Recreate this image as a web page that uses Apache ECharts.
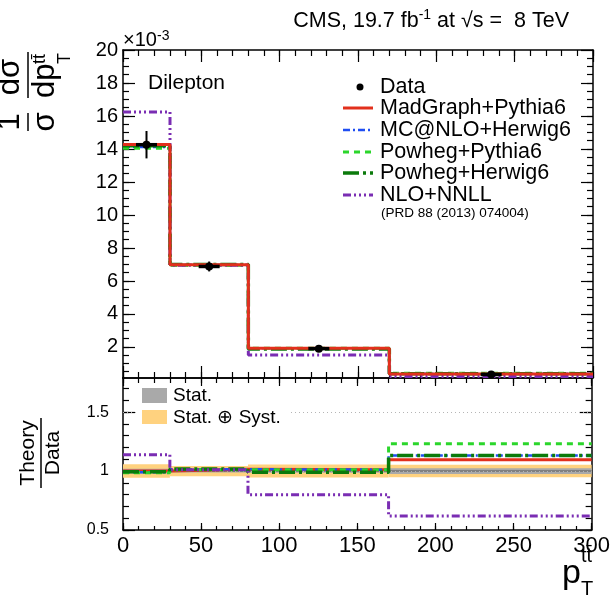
<!DOCTYPE html>
<html>
<head>
<meta charset="utf-8">
<script src="https://cdn.jsdelivr.net/npm/echarts@6/dist/echarts.min.js"></script>
<style>
  html, body { margin: 0; padding: 0; background: #fff; }
  #chart { width: 613px; height: 596px; }
</style>
</head>
<body>
<div id="chart"></div>
<script>
// ---- binning (GeV) ----
const binEdges = [0, 30, 80, 170, 300];
const binCenters = [15, 55, 125, 235];

// ---- normalised differential cross section, units of 1e-3 / GeV ----
const dataValues = [14.26, 6.88, 1.90, 0.33];
const dataErrors = [0.83, 0.30, 0.06, 0.03];
const madgraphPythia6 = [14.27, 6.98, 1.92, 0.37];
const mcatnloHerwig6 = [14.12, 6.98, 1.92, 0.38];
const powhegPythia6 = [14.05, 6.96, 1.92, 0.41];
const powhegHerwig6 = [14.19, 7.00, 1.88, 0.38];
const nloNnll = [16.24, 6.96, 1.52, 0.21];

// ---- theory / data ----
const ratioMadgraphPythia6 = [1.00, 1.015, 1.012, 1.097];
const ratioMcatnloHerwig6 = [0.99, 1.015, 1.012, 1.133];
const ratioPowhegPythia6 = [0.985, 1.012, 1.012, 1.232];
const ratioPowhegHerwig6 = [0.995, 1.018, 0.99, 1.133];
const ratioNloNnll = [1.139, 1.012, 0.80, 0.619];
const statUncertainty = [0.02, 0.012, 0.015, 0.024];
const totalUncertainty = [0.057, 0.044, 0.055, 0.053];

// ---- axis ticks ----
const xMajorTicks = [0, 50, 100, 150, 200, 250, 300];
const yMajorTicksTop = [2, 4, 6, 8, 10, 12, 14, 16, 18, 20];
const yMajorTicksRatio = [0.5, 1, 1.5];
const ratioGridLines = [1.5, 1];

const FONT = '"Liberation Sans", Arimo, Arial, Helvetica, sans-serif';

function tickRange(start, stop, step) {
  const out = [];
  for (let v = start; v <= stop + 1e-9; v += step) out.push(+v.toFixed(4));
  return out;
}
const xMinorTicks = tickRange(0, 300, 10);
const yMinorTicksTop = tickRange(0.5, 19.5, 0.5);
const yMinorTicksRatio = tickRange(0.5, 1.7, 0.1);

// histogram -> step polyline points
function stepPoints(values) {
  const pts = values.map((v, i) => [binEdges[i], v]);
  pts.push([binEdges[binEdges.length - 1], values[values.length - 1]]);
  return pts;
}

// ---- axes (ticks pointing inwards on all four sides) ----
function xAxisDef(gridIndex, position, ticks, len, withLine, withLabels) {
  return {
    type: 'value', gridIndex, position, min: 0, max: 300,
    axisLine: { show: withLine, onZero: false, lineStyle: { color: '#000', width: 1.5 } },
    axisTick: { show: true, inside: true, length: len, customValues: ticks,
                lineStyle: { color: '#000', width: 1.2 } },
    axisLabel: withLabels
      ? { show: true, customValues: ticks, fontFamily: FONT, fontSize: 22, color: '#000', margin: 5 }
      : { show: false },
    splitLine: { show: false }
  };
}
function yAxisDef(gridIndex, position, min, max, ticks, len, withLine, labelOpts) {
  return {
    type: 'value', gridIndex, position, min, max,
    axisLine: { show: withLine, onZero: false, lineStyle: { color: '#000', width: 1.5 } },
    axisTick: { show: true, inside: true, length: len, customValues: ticks,
                lineStyle: { color: '#000', width: 1.2 } },
    axisLabel: labelOpts
      ? Object.assign({ show: true, customValues: ticks, fontFamily: FONT, color: '#000' }, labelOpts)
      : { show: false },
    splitLine: { show: false }
  };
}

const TOP_MIN = 0.12, TOP_MAX = 20;
const RATIO_MIN = 0.5, RATIO_MAX = 1.79;

const xAxes = [
  xAxisDef(0, 'bottom', xMajorTicks, 12, true, false),
  xAxisDef(0, 'bottom', xMinorTicks, 6, false, false),
  xAxisDef(0, 'top', xMajorTicks, 12, true, false),
  xAxisDef(0, 'top', xMinorTicks, 6, false, false),
  xAxisDef(1, 'bottom', xMajorTicks, 7, true, true),
  xAxisDef(1, 'bottom', xMinorTicks, 4, false, false),
  xAxisDef(1, 'top', xMajorTicks, 8, true, false),
  xAxisDef(1, 'top', xMinorTicks, 5, false, false)
];
const yAxes = [
  yAxisDef(0, 'left', TOP_MIN, TOP_MAX, yMajorTicksTop, 12, true, { fontSize: 20, margin: 5 }),
  yAxisDef(0, 'left', TOP_MIN, TOP_MAX, yMinorTicksTop, 6, false, null),
  yAxisDef(0, 'right', TOP_MIN, TOP_MAX, yMajorTicksTop, 12, true, null),
  yAxisDef(0, 'right', TOP_MIN, TOP_MAX, yMinorTicksTop, 6, false, null),
  yAxisDef(1, 'left', RATIO_MIN, RATIO_MAX, yMajorTicksRatio, 12, true,
           { fontSize: 16, margin: 14, formatter: v => String(v) }),
  yAxisDef(1, 'left', RATIO_MIN, RATIO_MAX, yMinorTicksRatio, 6, false, null),
  yAxisDef(1, 'right', RATIO_MIN, RATIO_MAX, yMajorTicksRatio, 12, true, null),
  yAxisDef(1, 'right', RATIO_MIN, RATIO_MAX, yMinorTicksRatio, 6, false, null)
];

// ---- prediction styles ----
const styles = {
  madgraph: { color: '#e2301c', width: 3, type: 'solid' },
  mcatnlo: { color: '#1f4ef2', width: 2.5, type: [7, 3, 2, 3] },
  powhegPy: { color: '#2bd62b', width: 3, type: [6, 5] },
  powhegHw: { color: '#0b7a0b', width: 3.5, type: [16, 4, 3, 4] },
  nlonnll: { color: '#7a2db3', width: 3, type: [8, 3, 2, 3, 2, 3, 2, 3] }
};

function stepSeries(name, values, style, axisIdx, z) {
  return {
    name, type: 'line', step: 'end', data: stepPoints(values),
    xAxisIndex: axisIdx, yAxisIndex: axisIdx, showSymbol: false, symbol: 'none',
    lineStyle: { color: style.color, width: style.width, type: style.type },
    z, silent: true, animation: false
  };
}

// data points with vertical error bars
const dataSeries = {
  name: 'Data', type: 'custom', xAxisIndex: 0, yAxisIndex: 0, z: 20,
  data: binCenters.map((c, i) => [c, dataValues[i], dataErrors[i]]),
  renderItem(params, api) {
    const x = api.value(0), y = api.value(1), e = api.value(2);
    const c = api.coord([x, y]);
    const hi = api.coord([x, y + e]);
    const lo = api.coord([x, y - e]);
    return {
      type: 'group', children: [
        { type: 'line', shape: { x1: c[0], y1: hi[1], x2: c[0], y2: lo[1] }, style: { stroke: '#000', lineWidth: 2 } },
        { type: 'line', shape: { x1: c[0] - 10.5, y1: c[1], x2: c[0] + 10.5, y2: c[1] }, style: { stroke: '#000', lineWidth: 3.5 } },
        { type: 'circle', shape: { cx: c[0], cy: c[1], r: 4 }, style: { fill: '#000' } }
      ]
    };
  },
  animation: false
};

// uncertainty bands around 1 in the ratio panel
function bandSeries(errs, color, z, withCenter) {
  return {
    type: 'custom', xAxisIndex: 4, yAxisIndex: 4, z, silent: true, animation: false,
    data: errs.map((e, i) => [binEdges[i], binEdges[i + 1], e]),
    renderItem(params, api) {
      const x0 = api.value(0), x1 = api.value(1), e = api.value(2);
      const a = api.coord([x0, 1 + e]);
      const b = api.coord([x1, 1 - e]);
      const mid = api.coord([x0, 1]);
      const children = [{ type: 'rect', shape: { x: a[0], y: a[1], width: b[0] - a[0], height: b[1] - a[1] }, style: { fill: color } }];
      if (withCenter) {
        children.push({ type: 'line', shape: { x1: a[0], y1: mid[1], x2: b[0], y2: mid[1] }, style: { stroke: '#808080', lineWidth: 2 } });
      }
      return { type: 'group', children };
    }
  };
}

const gridLineSeries = {
  type: 'line', xAxisIndex: 4, yAxisIndex: 4, data: [], z: 1, silent: true,
  markLine: {
    silent: true, symbol: 'none', label: { show: false }, animation: false,
    lineStyle: { color: '#b5b5b5', type: [1, 3], width: 1 },
    data: ratioGridLines.map(v => ({ yAxis: v }))
  }
};

const series = [
  // upper panel
  stepSeries('MC@NLO+Herwig6', mcatnloHerwig6, styles.mcatnlo, 0, 5),
  stepSeries('Powheg+Pythia6', powhegPythia6, styles.powhegPy, 0, 6),
  stepSeries('Powheg+Herwig6', powhegHerwig6, styles.powhegHw, 0, 7),
  stepSeries('NLO+NNLL', nloNnll, styles.nlonnll, 0, 8),
  stepSeries('MadGraph+Pythia6', madgraphPythia6, styles.madgraph, 0, 9),
  dataSeries,
  // ratio panel
  gridLineSeries,
  bandSeries(totalUncertainty, '#ffd27f', 2, false),
  bandSeries(statUncertainty, '#a9a9a9', 3, true),
  stepSeries('MadGraph+Pythia6', ratioMadgraphPythia6, styles.madgraph, 4, 5),
  stepSeries('MC@NLO+Herwig6', ratioMcatnloHerwig6, styles.mcatnlo, 4, 6),
  stepSeries('Powheg+Pythia6', ratioPowhegPythia6, styles.powhegPy, 4, 7),
  stepSeries('Powheg+Herwig6', ratioPowhegHerwig6, styles.powhegHw, 4, 8),
  stepSeries('NLO+NNLL', ratioNloNnll, styles.nlonnll, 4, 9)
];

// ---- text and legends ----
function txt(text, x, y, size, opts) {
  return {
    type: 'text', x, y, z: 100,
    style: Object.assign({ text, fontFamily: FONT, fontSize: size, fill: '#000', align: 'left', verticalAlign: 'middle' }, opts || {})
  };
}
function legendLine(y, style) {
  return {
    type: 'line', z: 100,
    shape: { x1: 343, y1: y, x2: 373, y2: y },
    style: { stroke: style.color, lineWidth: style.width, lineDash: style.type === 'solid' ? null : style.type }
  };
}
const legendRows = [
  ['MadGraph+Pythia6', styles.madgraph, 108],
  ['MC@NLO+Herwig6', styles.mcatnlo, 130],
  ['Powheg+Pythia6', styles.powhegPy, 152],
  ['Powheg+Herwig6', styles.powhegHw, 173],
  ['NLO+NNLL', styles.nlonnll, 195]
];

const graphics = [
  // header
  {
    type: 'text', x: 569, y: 21, z: 100,
    style: {
      text: '{a|CMS, 19.7 fb}{s|-1}{a| at }{a|√s =  8 TeV}',
      align: 'right', verticalAlign: 'middle',
      rich: {
        a: { fontFamily: FONT, fontSize: 21.5, fill: '#000', lineHeight: 26 },
        s: { fontFamily: FONT, fontSize: 14, fill: '#000', verticalAlign: 'top', lineHeight: 14 }
      }
    }
  },
  txt('×10', 123, 40, 20),
  txt('-3', 157, 36, 14),
  txt('Dilepton', 148, 83, 21),
  // upper legend
  { type: 'circle', z: 100, shape: { cx: 360, cy: 87, r: 3.5 }, style: { fill: '#000' } },
  txt('Data', 380, 87, 21.5),
  ...legendRows.map(r => legendLine(r[2], r[1])),
  ...legendRows.map(r => txt(r[0], 380, r[2], 21.5)),
  txt('(PRD 88 (2013) 074004)', 381, 213, 13.5),
  // ratio legend
  { type: 'rect', z: 99, shape: { x: 138, y: 387, width: 150, height: 44 }, style: { fill: '#fff' } },
  { type: 'rect', z: 100, shape: { x: 142, y: 388, width: 25, height: 15 }, style: { fill: '#a9a9a9' } },
  txt('Stat.', 173, 396, 19),
  { type: 'rect', z: 100, shape: { x: 142, y: 410, width: 25, height: 14 }, style: { fill: '#ffd27f' } },
  txt('Stat. ⊕ Syst.', 173, 418, 19),
  // upper y title: 1/σ dσ/dp_T^{tt̄}, rotated
  {
    type: 'group', x: 0, y: 0, rotation: Math.PI / 2, z: 100,
    children: [
      txt('1', -122, 26, 31, { align: 'center', verticalAlign: 'bottom' }),
      { type: 'line', shape: { x1: -131, y1: 28, x2: -113, y2: 28 }, style: { stroke: '#000', lineWidth: 1.5 } },
      txt('σ', -122, 30, 31, { align: 'center', verticalAlign: 'top' }),
      txt('dσ', -77, 26, 31, { align: 'center', verticalAlign: 'bottom' }),
      { type: 'line', shape: { x1: -98, y1: 28, x2: -52, y2: 28 }, style: { stroke: '#000', lineWidth: 1.5 } },
      txt('dp', -98, 30, 31, { align: 'left', verticalAlign: 'top' }),
      txt('tt\u0304', -64, 31, 18, { align: 'left', verticalAlign: 'top' }),
      txt('T', -64, 56, 18, { align: 'left', verticalAlign: 'top' })
    ]
  },
  // ratio y title: Theory/Data, rotated
  {
    type: 'group', x: 0, y: 0, rotation: Math.PI / 2, z: 100,
    children: [
      txt('Theory', -453, 39, 21, { align: 'center', verticalAlign: 'bottom' }),
      { type: 'line', shape: { x1: -488, y1: 41, x2: -418, y2: 41 }, style: { stroke: '#000', lineWidth: 1.5 } },
      txt('Data', -453, 43, 21, { align: 'center', verticalAlign: 'top' })
    ]
  },
  // x title: p_T^{tt̄}
  txt('p', 562, 574, 34),
  txt('tt\u0304', 581, 556, 20),
  txt('T', 581, 589, 20)
];

const chart = echarts.init(document.getElementById('chart'), null, { renderer: 'canvas' });
chart.setOption({
  animation: false,
  backgroundColor: '#fff',
  textStyle: { fontFamily: FONT },
  grid: [
    { left: 123, top: 50, width: 470, height: 328, containLabel: false },
    { left: 123, top: 378, width: 470, height: 152, containLabel: false }
  ],
  xAxis: xAxes,
  yAxis: yAxes,
  series,
  graphic: graphics
});
</script>
</body>
</html>
